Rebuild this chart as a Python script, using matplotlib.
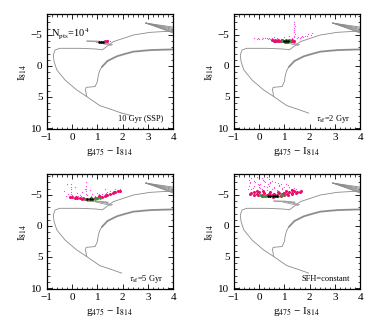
import matplotlib
matplotlib.use('Agg')
import matplotlib.pyplot as plt
from matplotlib.ticker import MultipleLocator

plt.rcParams['font.family'] = ['Liberation Serif', 'DejaVu Serif']
plt.rcParams['mathtext.fontset'] = 'stix'

# isochrone pieces (colour g475-I814, magnitude I814)
young_x = [1.96, 1.55, 1.1, 0.58, 0.18, -0.28, -0.6, -0.71, -0.74, -0.67, -0.48, 0.31, 0.97, 1.2, 1.63, 2.42, 3.08, 4.0]
young_y = [7.6, 7.0, 6.4, 4.93, 3.86, 2.25, 0.64, -0.7, -1.77, -2.57, -2.84, -2.84, -2.72, -2.6, -3.91, -4.98, -5.41, -5.63]
ssp_ms_x = [2.36, 1.96]
ssp_ms_y = [8.0, 7.6]
old_x = [0.58, 0.53, 0.56, 0.91, 1.0, 1.04, 1.1, 1.17]
old_y = [4.93, 3.8, 3.45, 3.32, 2.52, 1.45, 0.7, 0.2]
rgb_x = [1.17, 1.4, 1.77, 2.1, 2.42, 3.08, 4.0]
rgb_y = [0.2, -0.8, -1.55, -1.95, -2.3, -2.55, -2.66]
hb_x = [0.6, 1.0, 1.4]
hb_y = [-4.0, -3.95, -3.8]
loop1_x = [0.95, 1.25, 1.55]
loop1_y = [-3.85, -3.55, -3.3]
loop2_x = [1.15, 1.4, 1.6]
loop2_y = [-3.85, -3.6, -3.45]
agb_x0, agb_y0 = 2.92, -6.9
agb_end_y = [-6.25, -6.05, -5.85, -5.65, -5.45, -5.3]

# simulated stars, per panel: sparse (pink), dense (red), green, black
p1_pink = ([1.42, 1.5], [-4.15, -4.05])
p1_red = ([1.3, 1.38], [-3.95, -4.0])
p1_green = ([1.12, 1.2, 1.28], [-3.85, -3.9, -3.92])
p1_black = ([1.05, 1.15, 1.22], [-3.85, -3.88, -3.9])

p2_pink = ([-0.2, -0.05, 0.1, 0.25, 0.4, 0.55, 0.7, 0.15, 0.35, 0.85,
            1.4, 1.4, 1.41, 1.4, 1.39, 1.4, 1.41, 1.4, 1.4,
            1.5, 1.65, 1.8, 1.95, 2.1, 1.6, 1.75, 1.9, 2.05,
            1.0, 1.2, 1.3, 0.6, 0.0, 0.45, -0.1, 0.3, 0.5, 0.75, 1.55, 1.7],
           [-4.45, -4.5, -4.4, -4.5, -4.45, -4.4, -4.5, -4.55, -4.35, -4.4,
            -4.6, -4.9, -5.2, -5.5, -5.8, -6.1, -6.4, -6.8, -7.1,
            -4.5, -4.7, -4.9, -5.1, -5.3, -4.5, -4.65, -4.8, -5.0,
            -4.6, -4.8, -4.55, -4.6, -4.35, -4.3, -4.4, -4.45, -4.5, -4.35, -4.6, -4.85])
p2_red = ([0.5, 0.58, 0.65, 0.72, 0.8, 0.88, 0.95, 1.02, 1.1, 1.18, 1.25, 1.32, 1.38,
           0.62, 0.75, 0.9, 1.05, 1.2, 1.3],
          [-4.12, -4.08, -4.05, -4.02, -4.0, -3.97, -3.95, -3.93, -3.93, -3.95, -3.98, -4.02, -4.06,
           -4.18, -4.15, -4.12, -4.1, -4.12, -4.15])
p2_green = ([0.92, 1.0, 1.08, 1.16, 1.24], [-4.0, -4.0, -4.02, -4.05, -4.08])
p2_black = ([1.0, 1.08, 1.16], [-3.98, -4.0, -4.03])

p3_pink = ([-0.05, -0.04, -0.06, -0.05, -0.05, 0.55, 0.56, 0.55, 0.54, 0.55,
            -0.3, 0.2, 0.3, 0.4, 0.8, 1.0, 1.2, 1.4, 1.6, 1.8, 0.1, 0.7, -0.2, 0.5, 1.3,
            0.0, 0.6, 0.9, 1.1, 0.25, 1.5, 1.7, -0.15, 0.35, 0.75, 1.05, 1.35, 1.9, -0.25],
           [-5.1, -5.5, -5.9, -6.3, -6.7, -5.2, -5.6, -6.0, -6.5, -7.0,
            -5.6, -5.3, -5.0, -5.4, -5.1, -5.3, -5.2, -5.5, -5.4, -5.7, -6.2, -5.8, -6.8, -6.0, -5.9,
            -5.0, -5.0, -4.9, -5.0, -4.8, -5.6, -5.9, -5.2, -4.9, -4.85, -5.1, -5.25, -5.9, -4.9])
p3_red = ([-0.1, 0.0, 0.1, 0.2, 0.3, 0.4, 0.5, 0.6, 0.7, 0.8, 0.9, 1.0, 1.1, 1.2, 1.3, 1.4, 1.5, 1.6, 1.7, 1.8, 1.9,
           0.15, 0.45, 0.75, 1.05, 1.35, 1.65],
          [-4.7, -4.6, -4.52, -4.46, -4.42, -4.38, -4.35, -4.34, -4.34, -4.36, -4.42, -4.5, -4.6, -4.72, -4.85,
           -4.98, -5.12, -5.26, -5.4, -5.55, -5.7,
           -4.65, -4.55, -4.55, -4.75, -5.05, -5.4])
p3_green = ([0.5, 0.6, 0.7, 0.8, 0.9, 1.0, 1.1], [-4.33, -4.32, -4.32, -4.35, -4.4, -4.48, -4.58])
p3_black = ([0.6, 0.7, 0.8], [-4.3, -4.3, -4.33])

p4_pink = ([-0.4, -0.3, -0.2, -0.1, 0.0, 0.1, 0.2, 0.3, 0.4, 0.5,
            -0.35, -0.15, 0.05, 0.25, 0.45, 0.65, 0.85, 1.05,
            -0.4, -0.2, 0.0, 0.2, 0.4, 0.6, 0.8, 1.0, 1.2, 1.4,
            -0.3, -0.1, 0.1, 0.3, 0.5, 0.7, 0.9, 1.1, 1.3, 1.5, 1.65,
            -0.25, 0.15, 0.55, 0.95, 1.35, 1.6, -0.05, 0.35, 0.75, 1.15,
            -0.45, -0.25, 0.05, 0.3, 0.6, 0.9, 1.25, 1.45, 0.15, 0.45, 0.8, -0.35, 0.0],
           [-7.4, -7.8, -7.2, -7.9, -7.5, -7.8, -7.3, -7.9, -7.6, -7.2,
            -6.9, -7.0, -6.8, -7.0, -6.9, -7.1, -6.8, -6.7,
            -6.4, -6.5, -6.3, -6.5, -6.4, -6.3, -6.5, -6.2, -6.3, -6.1,
            -5.9, -5.8, -6.0, -5.8, -5.9, -5.8, -5.9, -5.7, -5.8, -5.6, -5.5,
            -5.4, -5.5, -5.3, -5.4, -5.3, -5.6, -6.8, -6.7, -6.9, -6.6,
            -6.0, -6.1, -6.15, -6.2, -6.05, -6.15, -6.0, -5.9, -7.4, -7.1, -6.6, -7.1, -6.6])
p4_red = ([-0.35, -0.2, -0.05, 0.1, 0.25, 0.4, 0.55, 0.7, 0.85, 1.0, 1.15, 1.3, 1.45, 1.6,
           -0.3, -0.1, 0.1, 0.3, 0.5, 0.7, 0.9, 1.1, 1.3, 1.5, 1.65,
           -0.2, 0.0, 0.2, 0.4, 0.6, 0.8, 1.0, 1.2, 1.4,
           -0.1, 0.15, 0.45, 0.75, 1.05, 1.3],
          [-5.2, -5.05, -4.95, -4.85, -4.8, -4.75, -4.72, -4.75, -4.85, -4.95, -5.05, -5.2, -5.35, -5.5,
           -5.35, -5.2, -5.05, -5.0, -4.95, -5.0, -5.1, -5.2, -5.35, -5.5, -5.65,
           -5.5, -5.4, -5.25, -5.2, -5.2, -5.25, -5.35, -5.5, -5.65,
           -5.7, -5.6, -5.5, -5.5, -5.6, -5.75])
p4_green = ([0.05, 0.15, 0.25, 0.35, 0.45, 0.55, 0.65, 0.75, 0.85, 0.95],
            [-4.92, -4.88, -4.85, -4.82, -4.8, -4.8, -4.82, -4.87, -4.93, -5.0])
p4_black = ([0.35, 0.45, 0.55, 0.65, 0.72], [-4.78, -4.76, -4.75, -4.77, -4.82])

labels = ['10 Gyr (SSP)', r'$\tau_{\rm sf}$=2 Gyr', r'$\tau_{\rm sf}$=5 Gyr', 'SFH=constant']
stars = [(p1_pink, p1_red, p1_green, p1_black),
         (p2_pink, p2_red, p2_green, p2_black),
         (p3_pink, p3_red, p3_green, p3_black),
         (p4_pink, p4_red, p4_green, p4_black)]

fig = plt.figure(figsize=(3.74, 3.2), dpi=100)
lefts = [0.1249, 0.6249, 0.1249, 0.6249]
bottoms = [0.596, 0.596, 0.096, 0.096]

for i in range(4):
    ax = fig.add_axes([lefts[i], bottoms[i], 0.3385, 0.359])
    lc = '#8a8a8a'
    ax.plot(young_x, young_y, color=lc, lw=0.6)
    if i == 0:
        ax.plot(ssp_ms_x, ssp_ms_y, color=lc, lw=0.6)
    ax.plot(old_x, old_y, color=lc, lw=0.6)
    ax.plot(rgb_x, rgb_y, color='#a0a0a0', lw=1.4, solid_capstyle='butt')
    ax.plot(rgb_x, rgb_y, color='#7a7a7a', lw=0.4)
    ax.plot(hb_x, hb_y, color='#a0a0a0', lw=1.1)
    ax.plot(loop1_x, loop1_y, color=lc, lw=0.5)
    ax.plot(loop2_x, loop2_y, color=lc, lw=0.5)
    for ye in agb_end_y:
        ax.plot([agb_x0, 4.0], [agb_y0, ye], color='#8a8a8a', lw=0.6)

    pink, red, green, black = stars[i]
    ax.plot(pink[0], pink[1], 'o', color='#ff44dd', ms=0.9, mew=0)
    ax.plot(red[0], red[1], 'o', color='#e8106a', ms=2.2, mew=0)
    ax.plot(green[0], green[1], 'o', color='#2ea02e', ms=2.0, mew=0)
    ax.plot(black[0], black[1], 'o', color='black', ms=1.8, mew=0)

    ax.set_xlim(-1, 4)
    ax.set_ylim(10.2, -8.3)
    ax.xaxis.set_major_locator(MultipleLocator(1))
    ax.xaxis.set_minor_locator(MultipleLocator(0.2))
    ax.yaxis.set_major_locator(MultipleLocator(5))
    ax.yaxis.set_minor_locator(MultipleLocator(1))
    ax.tick_params(which='both', direction='in', top=True, right=True, labelsize=8, pad=3)
    ax.tick_params(which='major', length=3.5, width=0.6)
    ax.tick_params(which='minor', length=1.8, width=0.5)
    for s in ax.spines.values():
        s.set_linewidth(0.9)
    ax.set_xticklabels(['', '\u22121', '0', '1', '2', '3', '4'])
    ax.set_yticklabels(['', '\u22125', '0', '5', '10'])
    ax.set_xlabel('g$_{475}$ \u2212 I$_{814}$', fontsize=8, labelpad=2)
    ax.set_ylabel(r'I$_{814}$', fontsize=8, labelpad=1)
    ax.text(3.6, 8.5, labels[i], fontsize=6, ha='right', va='center')
    if i == 0:
        ax.text(-0.85, -5.3, r'N$_{\rm pts}$=10$^4$', fontsize=7.5, ha='left', va='center')

fig.savefig('out.png', dpi=100)
